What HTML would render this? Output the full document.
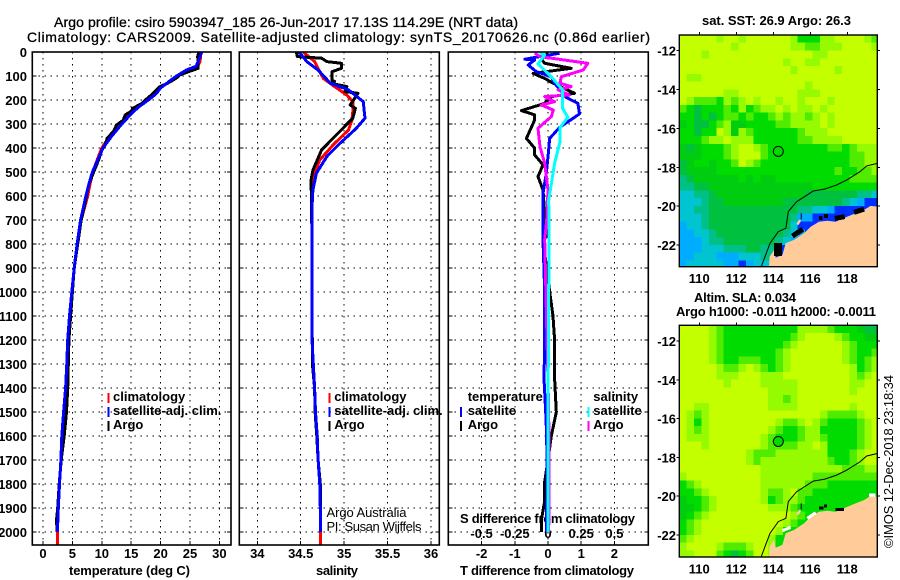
<!DOCTYPE html>
<html>
<head>
<meta charset="utf-8">
<title>Argo profile</title>
<style>
html,body{margin:0;padding:0;background:#fff;}
svg{display:block;}
text{font-family:"Liberation Sans",sans-serif;font-weight:bold;font-size:13px;fill:#000;}
.thin{font-weight:normal;}
.semi{font-weight:normal;stroke:#000;stroke-width:0.3px;}
</style>
</head>
<body>
<svg id="chart" width="900" height="580" viewBox="0 0 900 580" xmlns="http://www.w3.org/2000/svg">
<text x="54" y="27" textLength="464" lengthAdjust="spacing" style="font-size:14px" class="semi">Argo profile: csiro 5903947_185 26-Jun-2017 17.13S 114.29E (NRT data)</text>
<text x="27" y="42" textLength="623" lengthAdjust="spacing" style="font-size:14px" class="semi">Climatology: CARS2009. Satellite-adjusted climatology: synTS_20170626.nc (0.86d earlier)</text>
<text x="69" y="575" textLength="121" lengthAdjust="spacing">temperature (deg C)</text>
<text x="316" y="575" textLength="42" lengthAdjust="spacing">salinity</text>
<text x="460" y="575" textLength="174" lengthAdjust="spacing">T difference from climatology</text>
<text x="460" y="523" textLength="175" lengthAdjust="spacing">S difference from climatology</text>
<text class="thin" x="326.5" y="517" textLength="80" lengthAdjust="spacing">Argo Australia</text>
<text class="thin" x="326.5" y="531" textLength="95" lengthAdjust="spacing">PI: Susan Wijffels</text>
<text x="702" y="25" textLength="149" lengthAdjust="spacing">sat. SST: 26.9 Argo: 26.3</text>
<text x="694" y="302" textLength="102" lengthAdjust="spacing">Altim. SLA: 0.034</text>
<text x="676" y="316" textLength="200" lengthAdjust="spacing">Argo h1000: -0.011 h2000: -0.0011</text>
<text class="thin" transform="translate(893,548) rotate(-90)" textLength="173" lengthAdjust="spacing">©IMOS 12-Dec-2018 23:18:34</text>
</svg>
<script>
// ---------- tick labels ----------
const depthTicks = [0,100,200,300,400,500,600,700,800,900,1000,1100,1200,1300,1400,1500,1600,1700,1800,1900,2000];
const tempTicks = [0,5,10,15,20,25,30];
const salTicks = [34,34.5,35,35.5,36];
const tDiffTicks = [-2,-1,0,1,2];
const sDiffTicks = [-0.5,-0.25,0,0.25,0.5];
const sDiffLabels = ['-0.5','-0.25','0','0.25','0.5'];
const lonTicks = [110,112,114,116,118];
const latTicks = [-12,-14,-16,-18,-20,-22];

// ---------- temperature profiles ----------
const tempDepths = [0,20,40,60,75,100,120,150,175,200,225,250,300,350,400,450,500,550,600,700,800,900,1000,1100,1200,1300,1400,1500,1600,1700,1800,1900,2000,2054];
const tempClim = [26.8,26.8,26.7,26.3,24.7,23,21.6,20,18.8,17.6,16.2,14.9,13.1,11.4,10,9.2,8.5,8,7.6,6.5,5.9,5.3,4.9,4.6,4.3,4.1,3.85,3.5,3.2,3.05,2.8,2.6,2.45,2.45];
const tempSat = [27,26.7,26.4,26,24.4,22.7,21.6,20,19.2,17.9,16.5,15.3,13.4,11.7,10.2,9.3,8.4,7.8,7.3,6.4,5.8,5.3,4.9,4.5,4.2,4.05,3.85,3.5,3.2,3.05,2.8,2.6,2.45];
const tempArgoDepths = [2,20,40,60,68,80,95,110,130,144,160,180,200,215,235,245,262,285,304,330,360,385,408,440,478,519,560,600,700,800,900,1000,1100,1200,1300,1400,1500,1600,1700,1800,1900,1950,2000];
const tempArgo = [26.5,26.3,26.4,26.4,26.4,25,23.3,22.6,21.2,19.9,19.2,18.4,17.4,16.8,15.2,15.1,14,13.6,12.5,12,10.9,10.6,10,9.6,9,8.3,7.7,7.4,6.5,5.9,5.3,5,4.7,4.4,4.3,4.2,4,3.6,3.1,2.75,2.5,2.3,2.4];

// ---------- salinity profiles ----------
const salClimDepths = [0,40,110,144,179,207,249,283,325,388,450,505,561,650,800,1000,1200,1400,1500,1600,1700,1800,1900,2000,2054];
const salClim = [34.53,34.66,34.76,34.89,35.03,35.1,35.1,35.09,35.05,34.87,34.72,34.66,34.64,34.63,34.63,34.63,34.63,34.66,34.67,34.69,34.7,34.72,34.725,34.725,34.725];
const salSatDepths = [0,40,75,130,158,207,242,276,318,388,436,505,575,644,783,1000,1200,1400,1500,1600,1700,1800,1900,2000];
const salSat = [34.48,34.57,34.7,34.84,35.05,35.22,35.23,35.24,35.14,34.93,34.8,34.68,34.64,34.63,34.63,34.63,34.63,34.66,34.67,34.69,34.7,34.72,34.725,34.725];
const salArgoDepths = [0,19,26,40,47,68,82,117,123,130,144,165,172,221,235,276,353,408,492,533,783,1000,1300,1400,1500,1600,1700,1800,1900,1985];
const salArgo = [34.45,34.46,34.74,34.8,34.97,34.97,34.86,34.86,34.89,34.84,35.03,35.01,35.16,35.07,35.13,35.1,34.89,34.74,34.64,34.62,34.63,34.63,34.635,34.66,34.665,34.685,34.7,34.725,34.73,34.73];

// ---------- difference profiles ----------
const dTSatDepths = [5,30,33,54,82,103,130,189,214,258,314,360,436,505,589,783,1000,1200,1360,1500,1600,1800,2000];
const dTSat = [0.35,-0.7,-0.4,-0.6,-0.35,0.1,0.2,0.55,0.9,0.95,0.35,0.05,0,-0.05,-0.15,-0.15,-0.1,-0.1,-0.12,-0.07,-0.04,-0.03,-0.05];
const dTArgoDepths = [5,30,47,68,89,110,130,172,186,214,244,262,283,360,401,429,470,519,575,672,769,783,1000,1100,1200,1360,1500,1600,1700,1790,1870,1950,2000];
const dTArgo = [0,-0.2,-0.1,0.7,-0.45,-0.1,0.15,0.8,0.1,-0.1,-0.8,-0.4,-0.4,-0.65,-0.4,-0.4,-0.15,-0.3,-0.15,-0.1,-0.05,-0.15,0.05,0.15,0.2,0.2,0.25,0.1,0,-0.1,-0.1,-0.2,-0.2];
const dSSatDepths = [5,12,50,103,158,235,272,314,374,464,617,783,1000,1500,2000];
const dSSat = [-0.0625,-0.025,-0.075,0.025,0.11,0.11,0.15,0.09,0.09,0.05,0.005,0.008,0.005,0,0];
const dSArgoDepths = [5,19,47,75,103,130,144,158,179,186,207,221,242,269,318,394,464,575,700,783,1500,1800,2000];
const dSArgo = [-0.1,-0.06,0.3,0.265,0.1,0.09,0.175,0.075,0.16,-0.025,0.05,-0.05,0.04,0.025,-0.075,-0.06,-0.025,0,-0.01,-0.025,0.005,0.008,0.005];

// ---------- map grids: each digit is a colour level per 0.4 degree cell ----------
const sstLevels = [
"000001001000000133311000012",
"000000010000000112211100001",
"000100000000000000110000000",
"000000000000001001100000000",
"000000000000000100000100000",
"011000000000000000000000000",
"000000000000000001000000000",
"000000110000000011100000000",
"012223121010010010001000000",
"235333231321101011010000000",
"335353223233212112101000000",
"435532144333322111101000000",
"335330141233333321110000000",
"333211011133333322111100000",
"454333210012333333332232111",
"444333210002333333333332211",
"543343320123333333333332211",
"544443333333333333333233221",
"654444443434433333333332222",
"665544444444444444333333333",
"776654444444444445555555667",
"777655444444445555555567899",
"776655555555555566778999999",
"777655555555555688999999999",
"877655555555555799999999999",
"887765555555556789999999999",
"888766555555567899999999999",
"888777666556699999999999999",
"887778887776699999999999999",
"877777889877779999999999999"
];
const slaLevels = [
"000012333333333311112333455",
"000012333333333210000123344",
"000012333333332100000012333",
"000012333333321000000012332",
"000012332223321000000012321",
"000001221012321000000001321",
"000001110001110000000001210",
"000000100001111100000001100",
"000000000000111100000001000",
"000000000000112100000000000",
"001100000000111100000001000",
"012100000000000000012222100",
"013100000000012210123333210",
"012100000000123321133333210",
"011100000001233321123333210",
"000100000001222211013333210",
"000000000122211111113332100",
"000000000121111111112332100",
"000000000001111111111122211",
"100000000001111111222222222",
"321000000001111112223333333",
"332100000001221022333333333",
"433210000001321123333333333",
"443210000000111233333333333",
"432100000000000123333333333",
"321000000000001233333333333",
"321000000000013333333333333",
"210000000000133333333333333",
"100001222100133333333333333",
"110002353200133333333333333"
];
const levelColors = ['#c4ff00','#96fa00','#50ec00','#00dc00','#00cc10','#00c040','#00c088','#00c4d0','#00acff','#0030ff'];

// ---------- geography ----------
const coastLon = [119.66,119.26,118.9,118.45,117.91,117.37,116.92,116.47,116.02,115.66,115.12,114.67,114.49,114.13,114.04,113.8,113.77,119.66];
const coastLat = [-20.03,-19.99,-20.2,-20.37,-20.58,-20.8,-20.75,-20.8,-21.06,-21.4,-21.74,-21.91,-22.51,-22.65,-22.26,-22.6,-23.15,-23.15];
const isobathLon = [119.62,119.05,118.68,117.96,117.42,116.79,116.16,115.62,115.26,114.81,114.68,114.27,113.82,113.55,113.35];
const isobathLat = [-17.8,-17.93,-18.23,-18.66,-18.91,-19.12,-19.22,-19.55,-19.77,-20.28,-21.14,-21.31,-21.91,-22.6,-23.11];
const floatLon = 114.27;
const floatLat = -17.18;

// ---------- axis functions ----------
const yDepth = d => 52 + d * 0.24;
const xTemp = t => 43 + t * 5.88;
const xSal = s => 257.3 + (s - 34) * 86.85;
const xDT = t => 548 + t * 33.2;
const xDS = s => 548 + s * 132.8;
const xLon = lon => 699.3 + (lon - 110) * 18.5;
const ySst = lat => 50.7 + (-12 - lat) * 19.43;
const ySla = lat => 341 + (-12 - lat) * 19.4;

const svg = document.getElementById('chart');
const NS = 'http://www.w3.org/2000/svg';
function mk(tag, props, parent) {
  const e = document.createElementNS(NS, tag);
  for (const k in props) e.setAttribute(k, props[k]);
  (parent || svg).appendChild(e);
  return e;
}
function label(txt, x, y, anchor) {
  const e = mk('text', {x: x, y: y, 'text-anchor': anchor});
  e.textContent = txt;
  return e;
}
function profile(values, depths, xFn, color, clip) {
  const pts = values.map((v, i) => xFn(v).toFixed(1) + ',' + yDepth(depths[i]).toFixed(1)).join(' ');
  return mk('polyline', {points: pts, fill: 'none', stroke: color, 'stroke-width': 3, 'stroke-linejoin': 'round', 'shape-rendering': 'crispEdges', 'clip-path': 'url(#' + clip + ')'});
}

// clip regions
const defs = mk('defs', {});
function clipRect(id, x, y, w, h) {
  const c = mk('clipPath', {id: id}, defs);
  mk('rect', {x: x, y: y, width: w, height: h}, c);
}
clipRect('clip-temp', 32, 52, 199, 493);
clipRect('clip-sal', 239, 52, 200, 493);
clipRect('clip-diff', 448, 52, 200, 493);
clipRect('clip-sst', 679.3, 35, 198, 231.7);
clipRect('clip-sla', 679.3, 325.3, 198, 231.7);

// panel furniture
function panelFurniture(left, right, xFn, ticks, panelName) {
  const top = 52, bottom = 545;
  for (const d of depthTicks) {
    const g = mk('line', {x1: left, x2: right, y1: yDepth(d), y2: yDepth(d), stroke: '#000', 'stroke-width': 1, 'stroke-dasharray': '1.5 4.5', 'shape-rendering': 'crispEdges'});
    
    
    const tl = mk('line', {x1: left, x2: left + 4, y1: yDepth(d), y2: yDepth(d), stroke: '#000', 'stroke-width': 1, 'shape-rendering': 'crispEdges'});
    
    
    const tr = mk('line', {x1: right - 4, x2: right, y1: yDepth(d), y2: yDepth(d), stroke: '#000', 'stroke-width': 1, 'shape-rendering': 'crispEdges'});
    
    
  }
  for (const v of ticks) {
    const g = mk('line', {x1: xFn(v), x2: xFn(v), y1: top, y2: bottom, stroke: '#000', 'stroke-width': 1, 'stroke-dasharray': '1.5 4.5', 'shape-rendering': 'crispEdges'});
    
    
    const t = mk('line', {x1: xFn(v), x2: xFn(v), y1: bottom - 4, y2: bottom, stroke: '#000', 'stroke-width': 1, 'shape-rendering': 'crispEdges'});
    
    
    const lb = label(String(v), xFn(v), 558, 'middle');
    
    
  }
}
function panelFrame(left, right, panelName) {
  const f = mk('rect', {x: left, y: 52, width: right - left, height: 493, fill: 'none', stroke: '#000', 'stroke-width': 1.6});
  
  
}

panelFurniture(32.3, 231, xTemp, tempTicks, 'temperature-panel');
panelFurniture(239.3, 439.3, xSal, salTicks, 'salinity-panel');
panelFurniture(448.3, 648.3, xDT, tDiffTicks, 'difference-panel');

for (const d of depthTicks) {
  const l = label(String(d), 27, yDepth(d) + 5, 'end');
  
  
}
sDiffTicks.forEach((s, i) => {
  const l = label(sDiffLabels[i], xDS(s), 538, 'middle');
  
  
});

// series: temperature
const s1 = profile(tempClim, tempDepths, xTemp, '#ff0000', 'clip-temp');


const s2 = profile(tempArgo, tempArgoDepths, xTemp, '#000000', 'clip-temp');


const s3 = profile(tempSat, tempDepths, xTemp, '#0000ff', 'clip-temp');



// series: salinity
const s4 = profile(salClim, salClimDepths, xSal, '#ff0000', 'clip-sal');


const s5 = profile(salArgo, salArgoDepths, xSal, '#000000', 'clip-sal');


const s6 = profile(salSat, salSatDepths, xSal, '#0000ff', 'clip-sal');



// series: differences
const s7 = profile(dTArgo, dTArgoDepths, xDT, '#000000', 'clip-diff');


const s8 = profile(dTSat, dTSatDepths, xDT, '#0000ff', 'clip-diff');


const s9 = profile(dSArgo, dSArgoDepths, xDS, '#ff00ff', 'clip-diff');


const s10 = profile(dSSat, dSSatDepths, xDS, '#00ffff', 'clip-diff');



panelFrame(32.3, 231, 'temperature-panel');
panelFrame(239.3, 439.3, 'salinity-panel');
panelFrame(448.3, 648.3, 'difference-panel');

// legends
function legendEntry(tickX, textX, baseY, color, txt, entryName) {
  if (color) {
    const k = mk('rect', {x: tickX, y: baseY - 8, width: 2, height: 10, fill: color, 'shape-rendering': 'crispEdges'});
    
    
  }
  const t = label(txt, textX, baseY, 'start');
  
  
}
legendEntry(107.5, 113, 401, '#ff0000', 'climatology', 'legend-temperature-climatology');
legendEntry(107.5, 113, 415, '#0000ff', 'satellite-adj. clim.', 'legend-temperature-satellite');
legendEntry(107.5, 113, 429, '#000000', 'Argo', 'legend-temperature-argo');
legendEntry(328.5, 334.3, 401, '#ff0000', 'climatology', 'legend-salinity-climatology');
legendEntry(328.5, 334.3, 415, '#0000ff', 'satellite-adj. clim.', 'legend-salinity-satellite');
legendEntry(328.5, 334.3, 429, '#000000', 'Argo', 'legend-salinity-argo');
legendEntry(0, 467.7, 401, null, 'temperature', 'legend-t-difference-heading');
legendEntry(460, 467.7, 415, '#0000ff', 'satellite', 'legend-t-difference-satellite');
legendEntry(460, 467.7, 429, '#000000', 'Argo', 'legend-t-difference-argo');
legendEntry(0, 593.3, 401, null, 'salinity', 'legend-s-difference-heading');
legendEntry(587.5, 593.3, 415, '#00ffff', 'satellite', 'legend-s-difference-satellite');
legendEntry(587.5, 593.3, 429, '#ff00ff', 'Argo', 'legend-s-difference-argo');

// coastal gaps drawn between land and frame
const sstGapLon = [[114.25,114.25],[115.03,115.6],[116.47,116.65],[116.75,116.95],[117.32,117.86],[118.36,118.9]];
const sstGapLat = [[-21.9,-22.56],[-21.54,-21.19],[-20.6,-20.6],[-20.5,-20.5],[-20.63,-20.54],[-20.32,-20.16]];
const sstGapWidth = [8,5,4,4,5,5];
const slaWhiteLon = [[114.49,114.94],[115.84,116.29],[119.17,119.53]];
const slaWhiteLat = [[-21.78,-21.6],[-21.14,-20.85],[-19.94,-19.94]];
const slaBlackLon = [[116.47,116.7],[116.75,116.9],[117.37,117.82]];
const slaBlackLat = [[-20.62,-20.62],[-20.5,-20.5],[-20.69,-20.69]];

// maps
function drawMap(levels, yLat, clip, top, mapName) {
  const w = xLon(110.4) - xLon(110), h = Math.abs(yLat(-12.4) - yLat(-12));
  const group = mk('g', {'clip-path': 'url(#' + clip + ')'});
  
  
  levels.forEach((row, r) => {
    for (let c = 0; c < row.length; c++) {
      const cell = mk('rect', {x: (xLon(108.92 + c * 0.4)).toFixed(2), y: (yLat(-11.19 - r * 0.4)).toFixed(2), width: (w + 0.6).toFixed(2), height: (h + 0.6).toFixed(2), fill: levelColors[+row[c]], 'shape-rendering': 'crispEdges'}, group);
      
      
    }
  });
  const land = mk('polygon', {points: coastLon.map((lo, i) => xLon(lo).toFixed(1) + ',' + yLat(coastLat[i]).toFixed(1)).join(' '), fill: '#ffcc99', 'clip-path': 'url(#' + clip + ')'});
  
  
  if (mapName === 'sst-map') {
    sstGapLon.forEach((lo, i) => {
      const g = mk('line', {x1: xLon(lo[0]), x2: xLon(lo[1]), y1: yLat(sstGapLat[i][0]), y2: yLat(sstGapLat[i][1]), stroke: '#000', 'stroke-width': sstGapWidth[i], 'shape-rendering': 'crispEdges'});
      
      
    });
  } else {
    slaWhiteLon.forEach((lo, i) => {
      const g = mk('line', {x1: xLon(lo[0]), x2: xLon(lo[1]), y1: yLat(slaWhiteLat[i][0]), y2: yLat(slaWhiteLat[i][1]), stroke: '#fff', 'stroke-width': 3, 'shape-rendering': 'crispEdges'});
      
      
    });
    slaBlackLon.forEach((lo, i) => {
      const g = mk('line', {x1: xLon(lo[0]), x2: xLon(lo[1]), y1: yLat(slaBlackLat[i][0]), y2: yLat(slaBlackLat[i][1]), stroke: '#000', 'stroke-width': 3, 'shape-rendering': 'crispEdges'});
      
      
    });
  }
  const iso = mk('polyline', {points: isobathLon.map((lo, i) => xLon(lo).toFixed(1) + ',' + yLat(isobathLat[i]).toFixed(1)).join(' '), fill: 'none', stroke: '#000', 'stroke-width': 1, 'clip-path': 'url(#' + clip + ')'});
  
  
  const islet = mk('line', {x1: xLon(115.51), x2: xLon(115.51), y1: yLat(-20.37), y2: yLat(-20.68), stroke: '#000', 'stroke-width': 1});
  
  
  const isle = mk('line', {x1: xLon(115.3), x2: xLon(115.45), y1: yLat(-20.95), y2: yLat(-20.72), stroke: '#ffcc99', 'stroke-width': 2.5});
  
  
  const dot = mk('circle', {cx: xLon(floatLon), cy: yLat(floatLat), r: 5, fill: '#00dc00', stroke: '#000', 'stroke-width': 1});
  
  
  const bottom = top + 231.7;
  const frame = mk('rect', {x: 679.3, y: top, width: 198, height: 231.7, fill: 'none', stroke: '#000', 'stroke-width': 1.4});
  
  
  for (const lo of lonTicks) {
    const t1 = mk('line', {x1: xLon(lo), x2: xLon(lo), y1: top - 3, y2: top, stroke: '#000', 'stroke-width': 1, 'shape-rendering': 'crispEdges'});
    
    
    const l = label(String(lo), xLon(lo), bottom + 16.5, 'middle');
    
    
  }
  for (const la of latTicks) {
    const t1 = mk('line', {x1: 676.5, x2: 679.3, y1: yLat(la), y2: yLat(la), stroke: '#000', 'stroke-width': 1, 'shape-rendering': 'crispEdges'});
    
    
    const t2 = mk('line', {x1: 877.3, x2: 880, y1: yLat(la), y2: yLat(la), stroke: '#000', 'stroke-width': 1, 'shape-rendering': 'crispEdges'});
    
    
    const l = label(String(la), 676, yLat(la) + 5, 'end');
    
    
  }
}
drawMap(sstLevels, ySst, 'clip-sst', 35, 'sst-map');
drawMap(slaLevels, ySla, 'clip-sla', 325.3, 'sla-map');
</script>
</body>
</html>
